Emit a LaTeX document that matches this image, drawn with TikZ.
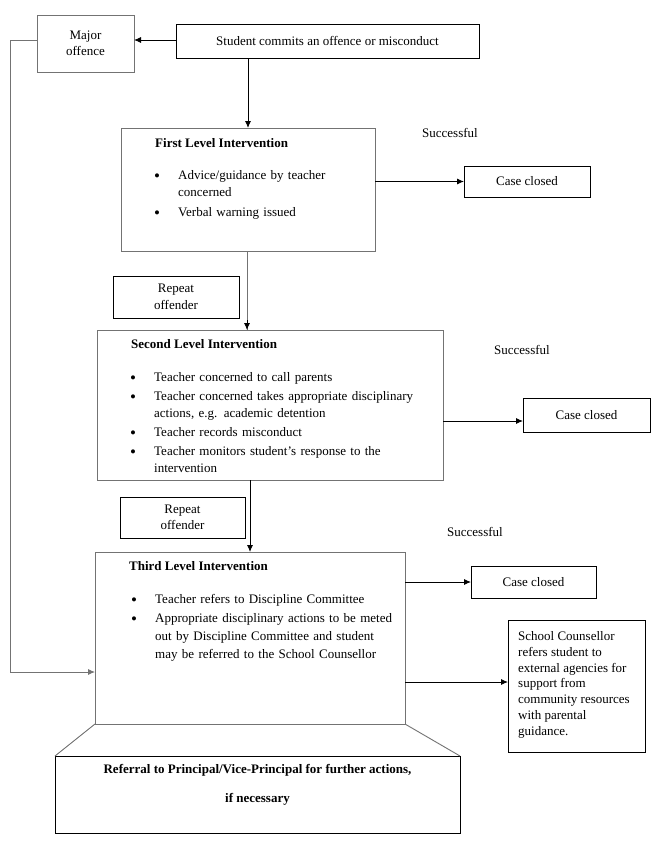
\documentclass[tikz,border=0pt]{standalone}
\usepackage{fontspec}
\setmainfont{Liberation Serif}
\usetikzlibrary{arrows.meta}
\newcommand{\bigbul}{\raisebox{-2.2pt}{\fontsize{17}{17}\selectfont\textbullet}}
\newenvironment{blist}[1]{\begin{list}{\bigbul}{\setlength\leftmargin{29pt}\setlength\labelwidth{10pt}\setlength\labelsep{18pt}\setlength\itemsep{#1}\setlength\parsep{0pt}\setlength\topsep{0pt}\setlength\partopsep{0pt}\setlength\itemindent{0pt}\setlength\listparindent{0pt}\setlength\rightmargin{0pt}}}{\end{list}}
\colorlet{gline}{black!55}
\tikzset{
  box/.style={draw=black, line width=0.9pt, inner sep=0pt, outer sep=0pt, anchor=north west},
  gbox/.style={box, draw=gline},
  txt/.style={font=\fontsize{13}{16.5}\selectfont, inner sep=0pt, align=center},
  ltxt/.style={font=\fontsize{13}{16.5}\selectfont, inner sep=0pt, align=left, anchor=west},
  lst/.style={inner sep=0pt, anchor=north west, text width=320pt, align=left},
  arr/.style={draw=black, line width=0.9pt, -{Latex[length=7pt,width=6pt]}},
  garr/.style={arr, draw=gline},
  gl/.style={draw=gline, line width=0.9pt},
}
\begin{document}
\begin{tikzpicture}[x=1pt,y=-1pt]
\useasboundingbox (0,0) rectangle (660,868);
\fill[white] (0,0) rectangle (660,868);

% top row
\node[gbox, minimum width=97pt, minimum height=57pt] (major) at (37,15) {};
\node[txt] (majort) at (major.center) {Major\\offence};
\node[box, minimum width=303pt, minimum height=34pt] (student) at (176,24) {};
\node[txt] (studentt) at (student.center) {Student commits an offence or misconduct};

% first level
\node[gbox, minimum width=254pt, minimum height=123pt] (first) at (121,128) {};
\node[ltxt, font=\fontsize{13}{16.5}\selectfont\bfseries] (firstt) at (155,143) {First Level Intervention};
\node[lst, font=\fontsize{13}{16.5}\selectfont] (firstl) at (149,163) {\begin{blist}{3.5pt}
\item Advice/guidance by teacher\newline concerned
\item Verbal warning issued
\end{blist}};
\node[txt] (succ1) at (450,133) {Successful};
\node[box, minimum width=126pt, minimum height=31pt] (case1) at (464,166) {};
\node[txt] (case1t) at (case1.center) {Case closed};

% repeat 1
\node[box, minimum width=126pt, minimum height=42pt] (rep1) at (113,276) {};
\node[txt] (rep1t) at (rep1.center) {Repeat\\offender};

% second level
\node[gbox, minimum width=346pt, minimum height=150pt] (second) at (97,330) {};
\node[ltxt, font=\fontsize{13}{16.5}\selectfont\bfseries] (secondt) at (131,344) {Second Level Intervention};
\node[lst, font=\fontsize{13}{17}\selectfont] (secondl) at (125,364) {\begin{blist}{2pt}
\item Teacher concerned to call parents
\item Teacher concerned takes appropriate disciplinary\newline actions, e.g. academic detention
\item Teacher records misconduct
\item Teacher monitors student’s response to the\newline intervention
\end{blist}};
\node[txt] (succ2) at (522,350) {Successful};
\node[box, minimum width=127pt, minimum height=34pt] (case2) at (523,398) {};
\node[txt] (case2t) at (case2.center) {Case closed};

% repeat 2
\node[box, minimum width=125pt, minimum height=41pt] (rep2) at (120,497) {};
\node[txt] (rep2t) at (rep2.center) {Repeat\\offender};

% third level
\node[gbox, minimum width=310pt, minimum height=172pt] (third) at (95,552) {};
\node[ltxt, font=\fontsize{13}{16.5}\selectfont\bfseries] (thirdt) at (129,566) {Third Level Intervention};
\node[lst, font=\fontsize{13}{18}\selectfont] (thirdl) at (126,585) {\begin{blist}{1pt}
\item Teacher refers to Discipline Committee
\item Appropriate disciplinary actions to be meted\newline out by Discipline Committee and student\newline may be referred to the School Counsellor
\end{blist}};
\node[txt] (succ3) at (475,532) {Successful};
\node[box, minimum width=125pt, minimum height=32pt] (case3) at (471,566) {};
\node[txt] (case3t) at (case3.center) {Case closed};
\node[box, minimum width=137pt, minimum height=132pt] (couns) at (508,620) {};
\node[txt, align=left, anchor=north west, font=\fontsize{13}{15.9}\selectfont] (counst) at (518,631) {School Counsellor\\refers student to\\external agencies for\\support from\\community resources\\with parental\\guidance.};

% referral
\node[box, minimum width=405pt, minimum height=77pt] (refer) at (55,756) {};
\node[txt, anchor=north, font=\fontsize{13}{29}\selectfont\bfseries] (refert) at (257.5,764) {Referral to Principal/Vice-Principal for further actions,\\if necessary};
\draw[gl] (third.south west) -- (refer.north west);
\draw[gl] (third.south east) -- (refer.north east);

% connectors
\draw[arr] (student.west |- 0,40) -- (major.east |- 0,40);
\draw[arr] (first.north |- student.south) -- (first.north);
\draw[garr] (major.west |- 0,40) -- ++(-27,0) |- (third.west |- 0,672);
\draw[arr] (first.east |- case1.west) -- (case1.west);
\draw[gl] (first.south -| 247,0) -- (247,330);
\draw[arr] (247,320) -- (second.north -| 247,0);
\draw[arr] (second.east |- 0,421) -- (case2.west |- 0,421);
\draw[arr] (third.north |- second.south) -- (third.north);
\draw[arr] (third.east |- case3.west) -- (case3.west);
\draw[arr] (third.east |- 0,682) -- (couns.west |- 0,682);
\end{tikzpicture}
\end{document}
